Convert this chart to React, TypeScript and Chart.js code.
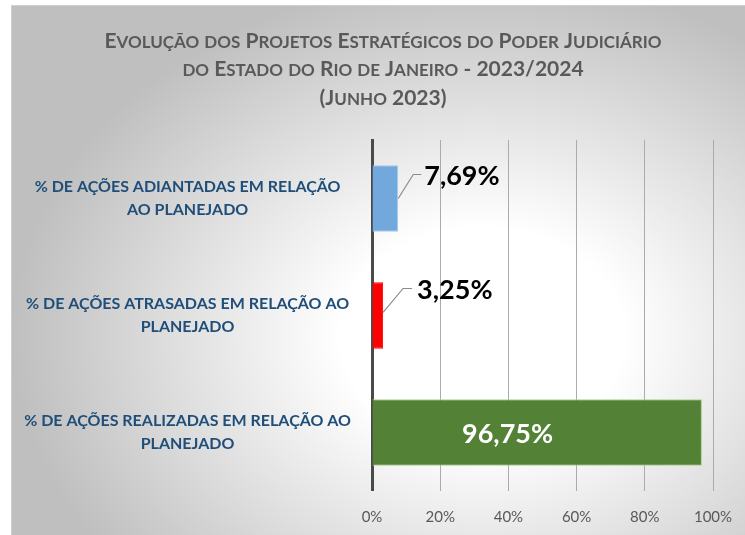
import React, { useEffect, useRef } from "react";
import { Chart, registerables } from "chart.js";

Chart.register(...registerables);

const categories: string[][] = [
  ["% DE AÇÕES ADIANTADAS EM RELAÇÃO", "AO PLANEJADO"],
  ["% DE AÇÕES ATRASADAS EM RELAÇÃO AO", "PLANEJADO"],
  ["% DE AÇÕES REALIZADAS EM RELAÇÃO AO", "PLANEJADO"],
];
const values: number[] = [7.69, 3.25, 96.75];
const valueLabels: string[] = ["7,69%", "3,25%", "96,75%"];
const barColors: string[] = ["#72A8DC", "#FF0000", "#538135"];
const barBorders: string[] = ["#A8CBEC", "#FF0000", "#A9D08E"];
const titleLines: string[] = [
  "Evolução dos Projetos Estratégicos do Poder Judiciário",
  "do Estado do Rio de Janeiro - 2023/2024",
  "(Junho 2023)",
];
const xTicks: number[] = [0, 20, 40, 60, 80, 100];

// Title drawn with simulated small caps (lowercase letters as smaller capitals)
const titlePlugin = {
  id: "smallCapsTitle",
  afterDraw(chart: any) {
    const ctx = chart.ctx;
    const big = 21;
    const small = 17;
    const cx = 383;
    const ys = [40, 68.5, 97];
    ctx.save();
    ctx.fillStyle = "#595959";
    ctx.textBaseline = "alphabetic";
    ctx.textAlign = "left";
    titleLines.forEach((line, li) => {
      const runs: { t: string; s: number }[] = [];
      for (const ch of line) {
        const isLower = ch !== ch.toUpperCase();
        const s = isLower ? small : big;
        const t = isLower ? ch.toUpperCase() : ch;
        if (runs.length && runs[runs.length - 1].s === s) runs[runs.length - 1].t += t;
        else runs.push({ t, s });
      }
      let total = 0;
      const widths = runs.map((r) => {
        ctx.font = `bold ${r.s}px Lato`;
        const w = ctx.measureText(r.t).width;
        total += w;
        return w;
      });
      let x = cx - total / 2;
      const baseline = ys[li] + big * 0.36;
      runs.forEach((r, i) => {
        ctx.font = `bold ${r.s}px Lato`;
        ctx.fillText(r.t, x, baseline);
        x += widths[i];
      });
    });
    ctx.restore();
  },
};

const labelPlugin = {
  id: "valueLabels",
  afterDatasetsDraw(chart: any) {
    const ctx = chart.ctx;
    const meta = chart.getDatasetMeta(0);
    meta.data.forEach((bar: any, i: number) => {
      const text = valueLabels[i];
      ctx.save();
      if (i === 2) {
        const cx = bar.base + (bar.x - bar.base) * 0.41;
        ctx.font = "bold 27px Lato";
        ctx.fillStyle = "#ffffff";
        ctx.textAlign = "center";
        ctx.textBaseline = "middle";
        ctx.fillText(text, cx, bar.y + 2);
      } else {
        const dx = i === 0 ? 15 : 20;
        const dy = i === 0 ? -24 : -27;
        const hx = i === 0 ? 23 : 29;
        const lx = i === 0 ? 26 : 34;
        const sy = i === 0 ? 0 : -3;
        ctx.strokeStyle = "#8c8c8c";
        ctx.lineWidth = 1.2;
        ctx.beginPath();
        ctx.moveTo(bar.x, bar.y + sy);
        ctx.lineTo(bar.x + dx, bar.y + dy);
        ctx.lineTo(bar.x + hx, bar.y + dy);
        ctx.stroke();
        ctx.font = "bold 27px Lato";
        ctx.fillStyle = "#000000";
        ctx.textAlign = "left";
        ctx.textBaseline = "middle";
        ctx.fillText(text, bar.x + lx, bar.y + dy + 2);
      }
      ctx.restore();
    });
  },
};

export default function App() {
  const ref = useRef<HTMLCanvasElement | null>(null);
  useEffect(() => {
    if (!ref.current) return;
    const chart = new Chart(ref.current, {
      type: "bar",
      data: {
        labels: categories,
        datasets: [
          {
            data: values,
            backgroundColor: barColors,
            borderColor: barBorders,
            borderWidth: 1,
            categoryPercentage: 1,
            barPercentage: 0.57,
          },
        ],
      },
      options: {
        indexAxis: "y",
        animation: false,
        responsive: false,
        layout: { padding: { left: 21, right: 0, top: 140, bottom: -13 } },
        plugins: {
          legend: { display: false },
          tooltip: { enabled: false },
          title: { display: false },
        },
        scales: {
          x: {
            min: 0,
            max: 100,
            afterBuildTicks: (scale: any) => {
              scale.ticks = xTicks.map((v) => ({ value: v }));
            },
            afterFit: (scale: any) => {
              scale.paddingRight = 32;
            },
            grid: { color: "#ababab", lineWidth: 1, drawTicks: false },
            border: { display: false },
            ticks: {
              color: "#595959",
              font: { family: "Lato", size: 15 },
              padding: 17,
              callback: (v: any) => v + "%",
            },
          },
          y: {
            afterFit: (scale: any) => {
              scale.width = 351;
            },
            grid: { display: false, drawTicks: false },
            border: { display: true, color: "#4a4a4a", width: 3 },
            ticks: {
              color: "#1F4E79",
              crossAlign: "center",
              padding: 21,
              font: { family: "Lato", size: 16, weight: "bold", lineHeight: 1.44 },
            },
          },
        },
      },
      plugins: [labelPlugin, titlePlugin],
    });
    return () => chart.destroy();
  }, []);

  return (
    <div style={{ position: "fixed", left: 0, top: 0, width: 745, height: 535, background: "#ffffff" }}>
      <div
        style={{
          position: "absolute",
          left: 11,
          top: 5,
          width: 734,
          height: 530,
          boxSizing: "border-box",
          borderLeft: "1px solid #cfcfcf",
          borderTop: "1px solid #cfcfcf",
          background:
            "radial-gradient(ellipse 470px 360px at 470px 330px, #ffffff 0%, #ffffff 30%, #bfbfbf 100%)",
        }}
      />
      <canvas ref={ref} width={745} height={535} style={{ position: "absolute", left: 0, top: 0 }} />
    </div>
  );
}
